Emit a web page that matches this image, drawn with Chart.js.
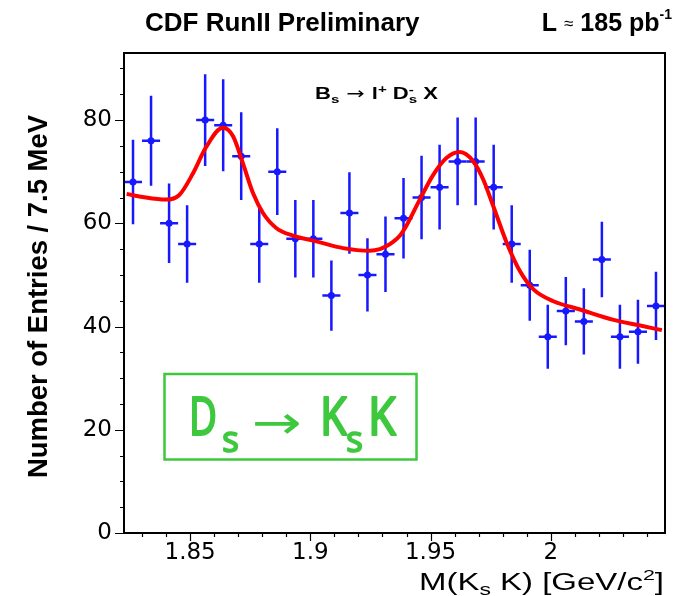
<!DOCTYPE html>
<html>
<head>
<meta charset="utf-8">
<script src="https://cdn.jsdelivr.net/npm/chart.js@4.4.1/dist/chart.umd.min.js"></script>
<style>
  html, body { margin: 0; padding: 0; background: #fff; }
  canvas { display: block; }
</style>
</head>
<body>
<canvas id="chart" width="687" height="596"></canvas>
<script>
// M(Ks K) histogram, 7.5 MeV bins
const binWidth = 0.0075;
const massBins = [1.82625, 1.83375, 1.84125, 1.84875, 1.85625, 1.86375, 1.87125, 1.87875, 1.88625, 1.89375,
                  1.90125, 1.90875, 1.91625, 1.92375, 1.93125, 1.93875, 1.94625, 1.95375, 1.96125, 1.96875,
                  1.97625, 1.98375, 1.99125, 1.99875, 2.00625, 2.01375, 2.02125, 2.02875, 2.03625, 2.04375];
const entries = [68, 76, 60, 56, 80, 79, 73, 56, 70, 57,
                 57, 46, 62, 50, 54, 61, 65, 67, 72, 72,
                 67, 56, 48, 38, 43, 41, 53, 38, 39, 44];
const entryErrors = [8.2, 8.7, 7.7, 7.5, 8.9, 8.9, 8.5, 7.5, 8.4, 7.5,
                     7.5, 6.8, 7.9, 7.1, 7.3, 7.8, 8.1, 8.2, 8.5, 8.5,
                     8.2, 7.5, 6.9, 6.2, 6.6, 6.4, 7.3, 6.2, 6.2, 6.6];

// fit: D+ and Ds peaks over the background
const fitMass = [1.8236, 1.8303, 1.8400, 1.8455, 1.8511, 1.8567, 1.8636, 1.8678, 1.8719, 1.8761,
                 1.8803, 1.8858, 1.8928, 1.9025, 1.9136, 1.9247, 1.9289, 1.9317, 1.9344, 1.9372,
                 1.9400, 1.9455, 1.9511, 1.9567, 1.9622, 1.9678, 1.9719, 1.9761, 1.9817, 1.9872,
                 1.9928, 2.0011, 2.0122, 2.0261, 2.0372, 2.0462];
const fitValue = [65.7, 65.1, 64.6, 65.5, 69.6, 74.8, 78.5, 76.9, 71.7, 65.9,
                  62.0, 59.1, 57.6, 56.5, 55.2, 54.7, 55.0, 55.6, 56.4, 57.6,
                  59.6, 64.6, 69.4, 72.7, 73.8, 72.0, 68.5, 63.3, 56.2, 50.7,
                  47.2, 44.9, 43.3, 41.3, 40.2, 39.3];

const xTicks = [1.85, 1.9, 1.95, 2];
const yTicks = [0, 20, 40, 60, 80];

const BLUE = '#1818ff';
const GREEN = '#3ec83e';
const SANS = '"Liberation Sans", Arial, sans-serif';

// draws text made of pieces: [text, font, dy, keepX]; optional total width
function richText(ctx, parts, x, y, align, width) {
  let w = 0;
  parts.forEach(p => { ctx.font = p[1]; if (!p[3]) w += ctx.measureText(p[0]).width; });
  const sx = width ? width / w : 1;
  const total = w * sx;
  const left = align === 'right' ? x - total : align === 'center' ? x - total / 2 : x;
  ctx.save();
  ctx.translate(left, y);
  ctx.scale(sx, 1);
  ctx.textAlign = 'left';
  ctx.textBaseline = 'alphabetic';
  let cx = 0;
  parts.forEach(p => {
    ctx.font = p[1];
    ctx.fillText(p[0], cx, p[2] || 0);
    if (!p[3]) cx += ctx.measureText(p[0]).width;
  });
  ctx.restore();
}

// squeeze a string into a given width (optionally outlined to thicken it)
function fitText(ctx, text, x, y, width, outline) {
  const w = ctx.measureText(text).width;
  ctx.save();
  ctx.translate(x, y);
  ctx.scale(width / w, 1);
  ctx.textAlign = 'left';
  ctx.fillText(text, 0, 0);
  if (outline) {
    ctx.lineWidth = outline;
    ctx.lineJoin = 'round';
    ctx.strokeText(text, 0, 0);
  }
  ctx.restore();
}

const errorBars = {
  id: 'errorBars',
  beforeDatasetsDraw(chart) {
    const { ctx, scales: { x, y } } = chart;
    ctx.save();
    ctx.strokeStyle = BLUE;
    ctx.lineWidth = 2.5;
    massBins.forEach((m, i) => {
      const px = x.getPixelForValue(m);
      const py = y.getPixelForValue(entries[i]);
      ctx.beginPath();
      ctx.moveTo(px, y.getPixelForValue(entries[i] - entryErrors[i]));
      ctx.lineTo(px, y.getPixelForValue(entries[i] + entryErrors[i]));
      ctx.moveTo(x.getPixelForValue(m - binWidth / 2), py);
      ctx.lineTo(x.getPixelForValue(m + binWidth / 2), py);
      ctx.stroke();
    });
    ctx.restore();
  }
};

const frame = {
  id: 'frame',
  afterDraw(chart) {
    const { ctx, chartArea: a, scales: { x, y } } = chart;
    ctx.save();
    ctx.strokeStyle = '#000';
    ctx.lineWidth = 2;
    ctx.strokeRect(a.left, a.top, a.right - a.left, a.bottom - a.top);

    // tick marks, outside the frame
    ctx.lineWidth = 1.2;
    ctx.beginPath();
    for (let v = 1.83; v < 2.047; v += 0.01) {
      const px = Math.round(x.getPixelForValue(v)) + 0.5;
      const major = xTicks.some(t => Math.abs(t - v) < 1e-6);
      ctx.moveTo(px, a.bottom);
      ctx.lineTo(px, a.bottom + (major ? 8 : 4));
    }
    for (let v = 0; v <= 90; v += 5) {
      const py = Math.round(y.getPixelForValue(v)) + 0.5;
      ctx.moveTo(a.left, py);
      ctx.lineTo(a.left - (v % 20 === 0 ? 9 : 4), py);
    }
    ctx.stroke();

    ctx.fillStyle = '#000';
    richText(ctx, [['CDF RunII Preliminary', 'bold 26px ' + SANS]], 145, 31, 'left');
    richText(ctx, [
      ['L ', 'bold 25px ' + SANS],
      ['\u2248', '17px ' + SANS, -2],
      [' 185 pb', 'bold 25px ' + SANS],
      ['-1', 'bold 14px ' + SANS, -12]
    ], 672, 31, 'right');

    richText(ctx, [
      ['B', 'bold 16px ' + SANS],
      ['s', 'bold 11px ' + SANS, 4],
      [' \u2192 ', '16px "DejaVu Sans"'],
      ['l', 'bold 16px ' + SANS],
      ['+', 'bold 11px ' + SANS, -6],
      [' D', 'bold 16px ' + SANS],
      ['-', 'bold 11px ' + SANS, -6, true],
      ['s', 'bold 11px ' + SANS, 4],
      [' X', 'bold 16px ' + SANS]
    ], 315, 99, 'left', 123);

    richText(ctx, [
      ['M(K', '23px ' + SANS],
      ['s', '16px ' + SANS, 5],
      [' K) [GeV/c', '23px ' + SANS],
      ['2', '15px ' + SANS, -10],
      [']', '23px ' + SANS]
    ], 664, 590, 'right', 245);

    // y axis title, rotated
    ctx.save();
    ctx.translate(47, 297);
    ctx.rotate(-Math.PI / 2);
    ctx.font = 'bold 27px ' + SANS;
    fitText(ctx, 'Number of Entries / 7.5 MeV', -181, 0, 363);
    ctx.restore();

    // decay label box
    ctx.strokeStyle = GREEN;
    ctx.lineWidth = 2.5;
    ctx.strokeRect(164.5, 374, 252, 85.5);
    ctx.fillStyle = GREEN;
    ctx.font = '52px "Noto Sans"';
    fitText(ctx, 'D', 189, 435, 28, 2);
    ctx.font = '36px "Noto Sans"';
    fitText(ctx, 's', 222, 452, 17, 1.5);
    ctx.font = '46px "DejaVu Sans"';
    fitText(ctx, '\u2192', 252, 438, 50);
    ctx.font = '52px "Noto Sans"';
    fitText(ctx, 'K', 320, 435, 27, 2);
    ctx.font = '36px "Noto Sans"';
    fitText(ctx, 's', 346, 452, 17, 1.5);
    ctx.font = '52px "Noto Sans"';
    fitText(ctx, 'K', 368, 435, 28, 2);
    ctx.restore();
  }
};

const tickFont = { family: '"DejaVu Sans"', size: 23 };

new Chart(document.getElementById('chart'), {
  type: 'scatter',
  data: {
    datasets: [
      {
        type: 'line',
        data: fitMass.map((m, i) => ({ x: m, y: fitValue[i] })),
        borderColor: '#ff0000',
        borderWidth: 4,
        pointRadius: 0,
        cubicInterpolationMode: 'monotone',
        order: 0
      },
      {
        data: massBins.map((m, i) => ({ x: m, y: entries[i] })),
        pointRadius: 3.5,
        pointBackgroundColor: BLUE,
        pointBorderWidth: 0,
        order: 1
      }
    ]
  },
  options: {
    responsive: false,
    animation: false,
    devicePixelRatio: 1,
    layout: { padding: { top: 53, right: 22, left: 0, bottom: 0 } },
    plugins: { legend: { display: false }, tooltip: { enabled: false } },
    scales: {
      x: {
        type: 'linear',
        min: 1.8225,
        max: 2.0475,
        grid: { display: false, drawTicks: false },
        border: { display: false },
        afterBuildTicks: s => { s.ticks = xTicks.map(v => ({ value: v })); },
        afterFit: s => { s.height = 63; },
        ticks: { padding: 6, font: tickFont, color: '#000', autoSkip: false, maxRotation: 0, callback: v => String(v) }
      },
      y: {
        min: 0,
        max: 93,
        grid: { display: false, drawTicks: false },
        border: { display: false },
        afterBuildTicks: s => { s.ticks = yTicks.map(v => ({ value: v })); },
        afterFit: s => { s.width = 124; },
        ticks: { padding: 12, font: tickFont, color: '#000', callback: v => String(v) }
      }
    }
  },
  plugins: [errorBars, frame]
});
</script>
</body>
</html>
